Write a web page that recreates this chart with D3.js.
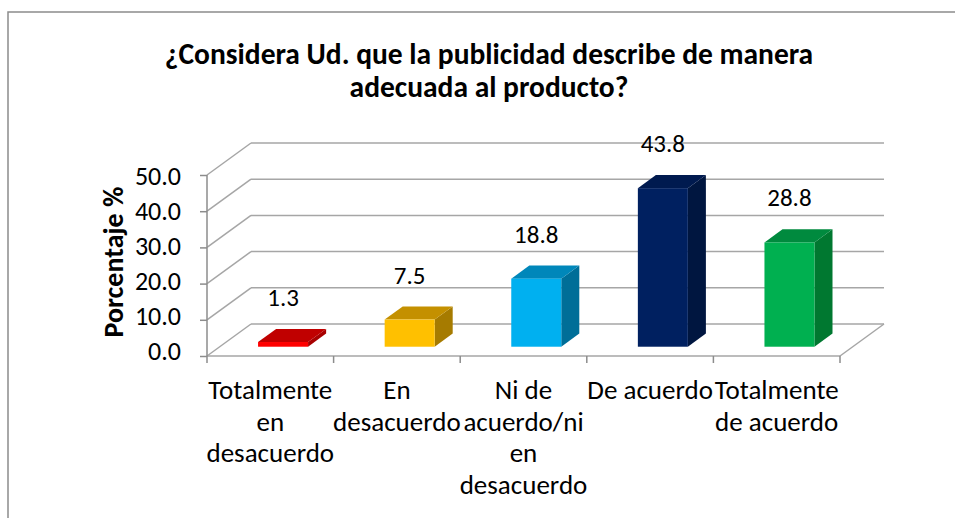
<!DOCTYPE html>
<html>
<head>
<meta charset="utf-8">
<script src="https://cdn.jsdelivr.net/npm/d3@7"></script>
<style>
  body { margin: 0; background: #fff; }
  svg { display: block; font-family: Carlito, Lato, sans-serif; }
</style>
</head>
<body>
<div id="chart_container"></div>
<script>
// chart data
let categories = [
  ["Totalmente", "en", "desacuerdo"],
  ["En", "desacuerdo"],
  ["Ni de", "acuerdo/ni", "en", "desacuerdo"],
  ["De acuerdo"],
  ["Totalmente", "de acuerdo"]
];
let values = [1.3, 7.5, 18.8, 43.8, 28.8];
let yTicks = [0, 10, 20, 30, 40, 50];
let titleLines = ["¿Considera Ud. que la publicidad describe de manera", "adecuada al producto?"];
let yTitle = "Porcentaje %";

// front, top, side colours for each bar
let barColors = [
  ["#FF0000", "#C00000", "#A80000"],
  ["#FFC000", "#C49000", "#A67B00"],
  ["#00B0F0", "#0087BA", "#006E98"],
  ["#002060", "#001A4F", "#001640"],
  ["#00B050", "#008A3E", "#007830"]
];

let svgWidth = 955;
let svgHeight = 518;

// 3d depth offset of the back wall
let depthX = 44;
let depthY = -32;
let barZ0 = 0.29;
let barZ1 = 0.70;
let barWidth = 50;
let gridColor = "#A6A6A6";

let svg = d3.select("#chart_container")
  .append("svg")
  .attr("width", svgWidth)
  .attr("height", svgHeight);

// outer frame (runs off the right and bottom of the picture)
svg.append("rect")
  .attr("x", 8)
  .attr("y", 12)
  .attr("width", 960)
  .attr("height", 530)
  .attr("fill", "none")
  .attr("stroke", "#8C8C8C")
  .attr("stroke-width", 1.5);

let xScale = d3.scaleBand()
  .domain(d3.range(values.length))
  .range([207, 840]);

let yScale = d3.scaleLinear()
  .domain([0, 50])
  .range([356, 175]);

// tick labels sit a little behind the front plane
let yLabelScale = d3.scaleLinear()
  .domain([0, 50])
  .range([351, 176]);

let x0 = xScale.range()[0];
let x1 = xScale.range()[1];

// back wall gridlines + left wall diagonals
let grid = svg.append("g")
  .attr("stroke", gridColor)
  .attr("stroke-width", 1.5)
  .attr("fill", "none");

yTicks.forEach(t => {
  let y = yScale(t);
  grid.append("line")
    .attr("x1", x0 + depthX).attr("y1", y + depthY)
    .attr("x2", x1 + depthX).attr("y2", y + depthY);
  grid.append("line")
    .attr("x1", x0).attr("y1", y)
    .attr("x2", x0 + depthX).attr("y2", y + depthY);
});

// floor front and right edges
grid.append("line")
  .attr("x1", x0).attr("y1", yScale(0))
  .attr("x2", x1).attr("y2", yScale(0));
grid.append("line")
  .attr("x1", x1).attr("y1", yScale(0))
  .attr("x2", x1 + depthX).attr("y2", yScale(0) + depthY);

// y axis
let yAxis = d3.axisLeft(yScale)
  .tickValues(yTicks)
  .tickSize(7)
  .tickFormat("");

let yAxisG = svg.append("g")
  .attr("transform", "translate(" + x0 + ",0)")
  .call(yAxis);
yAxisG.selectAll("path, line")
  .attr("stroke", "#8C8C8C")
  .attr("stroke-width", 1.5);
yAxisG.select(".domain").attr("d", "M0," + yScale(50) + "V" + yScale(0));

svg.append("g")
  .selectAll("text")
  .data(yTicks)
  .enter()
  .append("text")
  .attr("x", 181)
  .attr("y", d => yLabelScale(d))
  .attr("dy", "0.35em")
  .attr("text-anchor", "end")
  .attr("font-size", 26)
  .attr("fill", "#000")
  .text(d => d3.format(".1f")(d));

// x axis ticks
let xTickPositions = d3.range(values.length + 1).map(i => x0 + i * xScale.bandwidth());
svg.append("g")
  .selectAll("line")
  .data(xTickPositions)
  .enter()
  .append("line")
  .attr("x1", d => d).attr("x2", d => d)
  .attr("y1", yScale(0)).attr("y2", yScale(0) + 7)
  .attr("stroke", "#8C8C8C")
  .attr("stroke-width", 1.5);

// bars
let bars = svg.append("g");
values.forEach((v, i) => {
  let fx = xScale(i) + xScale.bandwidth() / 2 - barWidth / 2 + barZ0 * depthX;
  let fyTop = yScale(v) + barZ0 * depthY;
  let fyBot = yScale(0) + barZ0 * depthY;
  let dx = (barZ1 - barZ0) * depthX;
  let dy = (barZ1 - barZ0) * depthY;
  let c = barColors[i];

  // side face
  bars.append("path")
    .attr("d", "M" + [fx + barWidth, fyBot] +
      "L" + [fx + barWidth + dx, fyBot + dy] +
      "L" + [fx + barWidth + dx, fyTop + dy] +
      "L" + [fx + barWidth, fyTop] + "Z")
    .attr("fill", c[2]);
  // top face
  bars.append("path")
    .attr("d", "M" + [fx, fyTop] +
      "L" + [fx + dx, fyTop + dy] +
      "L" + [fx + barWidth + dx, fyTop + dy] +
      "L" + [fx + barWidth, fyTop] + "Z")
    .attr("fill", c[1]);
  // front face
  bars.append("rect")
    .attr("x", fx)
    .attr("y", fyTop)
    .attr("width", barWidth)
    .attr("height", fyBot - fyTop)
    .attr("fill", c[0]);

  // data label
  svg.append("text")
    .attr("x", fx + barWidth / 2)
    .attr("y", fyTop - 36)
    .attr("text-anchor", "middle")
    .attr("font-size", 25)
    .attr("fill", "#000")
    .text(v.toFixed(1));
});

// category labels
categories.forEach((lines, i) => {
  let t = svg.append("text")
    .attr("x", xScale(i) + xScale.bandwidth() / 2)
    .attr("y", 399)
    .attr("text-anchor", "middle")
    .attr("font-size", 27)
    .attr("fill", "#000");
  lines.forEach((line, j) => {
    t.append("tspan")
      .attr("x", xScale(i) + xScale.bandwidth() / 2)
      .attr("y", 399 + j * 31.5)
      .text(line);
  });
});

// y axis title
svg.append("text")
  .attr("transform", "translate(113,262) rotate(-90)")
  .attr("text-anchor", "middle")
  .attr("dominant-baseline", "central")
  .attr("font-size", 28)
  .attr("font-weight", "bold")
  .text(yTitle);

// chart title
titleLines.forEach((line, j) => {
  svg.append("text")
    .attr("x", 489)
    .attr("y", 64 + j * 33)
    .attr("text-anchor", "middle")
    .attr("font-size", 29.5)
    .attr("font-weight", "bold")
    .text(line);
});
</script>
</body>
</html>
